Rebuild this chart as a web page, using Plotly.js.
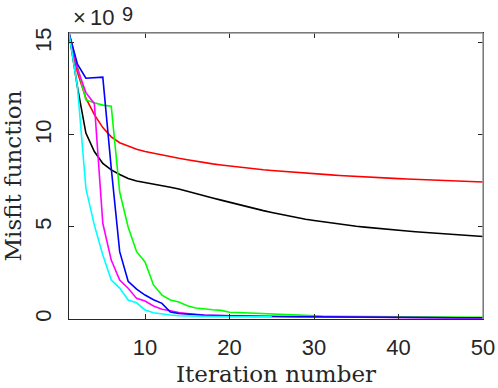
<!DOCTYPE html>
<html>
<head>
<meta charset="utf-8">
<script src="https://cdn.plot.ly/plotly-3.0.1.min.js"></script>
<style>
  html, body { margin: 0; padding: 0; background: #fff; }
  #misfitPlot { width: 498px; height: 388px; }
</style>
</head>
<body>
<div id="misfitPlot"></div>
<script>
// Misfit values, in units of 1e9, one entry per iteration
const misfitRed = [
    15.54, 13.4, 12.0, 11.1, 10.4, 9.9, 9.58, 9.38, 9.22, 9.1,
    9.0, 8.9, 8.81, 8.73, 8.65, 8.57, 8.5, 8.43, 8.37, 8.31,
    8.26, 8.21, 8.16, 8.11, 8.07, 8.03, 7.99, 7.95, 7.92, 7.89,
    7.86, 7.83, 7.8, 7.77, 7.74, 7.72, 7.69, 7.67, 7.65, 7.63,
    7.61, 7.59, 7.57, 7.55, 7.53, 7.51, 7.49, 7.47, 7.46, 7.44
];
const misfitBlack = [
    15.54, 12.6, 10.1, 9.1, 8.45, 8.1, 7.85, 7.63, 7.5, 7.42,
    7.35, 7.26, 7.16, 7.06, 6.95, 6.83, 6.71, 6.58, 6.46, 6.34,
    6.22, 6.11, 6.0, 5.89, 5.79, 5.69, 5.59, 5.5, 5.42, 5.35,
    5.28, 5.21, 5.15, 5.09, 5.04, 4.99, 4.94, 4.9, 4.86, 4.82,
    4.78, 4.74, 4.71, 4.68, 4.65, 4.62, 4.59, 4.56, 4.52, 4.48
];
const misfitGreen = [
    15.54, 13.7, 11.9, 11.75, 11.62, 11.56, 6.9, 5.0, 3.66, 3.1,
    1.85, 1.3, 1.03, 0.92, 0.72, 0.6, 0.53, 0.5, 0.47, 0.37,
    0.35, 0.33, 0.31, 0.26, 0.24, 0.22, 0.2, 0.18, 0.17, 0.16,
    0.155, 0.15, 0.145, 0.14, 0.135, 0.13, 0.125, 0.12, 0.118, 0.115,
    0.112, 0.11, 0.108, 0.105, 0.103, 0.1, 0.098, 0.096, 0.094, 0.092
];
const misfitMagenta = [
    15.54, 13.6, 12.3, 11.7, 5.2, 3.2, 2.12, 1.67, 1.12, 0.98,
    0.71, 0.53, 0.45, 0.35, 0.3, 0.25, 0.22, 0.2, 0.18, 0.17,
    0.16, 0.15, 0.14, 0.135, 0.13, 0.125, 0.12, 0.115, 0.11, 0.105,
    0.1, 0.097, 0.094, 0.091, 0.088, 0.085, 0.082, 0.08, 0.078, 0.076,
    0.074, 0.072, 0.07, 0.068, 0.066, 0.064, 0.062, 0.06, 0.058, 0.056
];
const misfitBlue = [
    15.54, 13.85, 13.08, 13.1, 13.14, 8.2, 3.66, 2.05, 1.62, 1.3,
    1.05, 0.85, 0.38, 0.3, 0.26, 0.22, 0.2, 0.19, 0.18, 0.17,
    0.16, 0.155, 0.15, 0.145, 0.14, 0.135, 0.13, 0.125, 0.12, 0.115,
    0.11, 0.105, 0.1, 0.098, 0.095, 0.092, 0.09, 0.088, 0.086, 0.084,
    0.082, 0.08, 0.078, 0.076, 0.074, 0.072, 0.07, 0.068, 0.066, 0.065
];
const misfitCyan = [
    15.54, 12.6, 7.1, 5.1, 3.48, 2.12, 1.68, 1.03, 0.88, 0.49,
    0.34, 0.27, 0.22, 0.18, 0.16, 0.15, 0.14, 0.135, 0.13, 0.128,
    0.126, 0.124, 0.122, 0.12, 0.118
];

const xTicks = [10, 20, 30, 40, 50];
const yTicks = [0, 5, 10, 15];

// draw order matters: later ones sit on top
const series = [
    {values: misfitRed, color: '#ff0000'},
    {values: misfitBlack, color: '#000000'},
    {values: misfitGreen, color: '#00ff00'},
    {values: misfitMagenta, color: '#ff00ff'},
    {values: misfitBlue, color: '#0000ff'},
    {values: misfitCyan, color: '#00ffff'}
];

const traces = series.map(s => ({
    type: 'scatter',
    mode: 'lines',
    x: s.values.map((_, i) => i + 1),
    y: s.values,
    line: {color: s.color, width: 1.6},
    hoverinfo: 'skip',
    showlegend: false
}));

const tickFont = {family: 'Liberation Sans, Arial, sans-serif', size: 22, color: '#262626'};
const titleFont = {family: 'DejaVu Serif, serif', size: 23, color: '#262626'};

// the "x10^9" exponent label, split so the spacing matches
function exponentPart(text, xshift, yshift, size, yanchor) {
    return {
        xref: 'paper', yref: 'paper',
        x: 0, y: 1,
        xanchor: 'left', yanchor: yanchor,
        xshift: xshift, yshift: yshift,
        showarrow: false,
        text: text,
        font: {family: 'Liberation Sans, Arial, sans-serif', size: size, color: '#262626'}
    };
}

const layout = {
    width: 498,
    height: 388,
    margin: {l: 69, r: 15, t: 33, b: 69},
    paper_bgcolor: '#ffffff',
    plot_bgcolor: '#ffffff',
    showlegend: false,
    xaxis: {
        range: [1, 50],
        tickvals: xTicks,
        ticktext: xTicks.map(String),
        ticks: 'inside',
        ticklen: 5,
        tickcolor: '#262626',
        showline: true,
        linecolor: '#262626',
        linewidth: 1,
        mirror: 'ticks',
        showgrid: false,
        zeroline: false,
        tickfont: tickFont,
        ticklabelstandoff: 9,
        title: {text: 'Iteration number', font: titleFont, standoff: 6}
    },
    yaxis: {
        range: [0, 15.54],
        tickvals: yTicks,
        ticktext: yTicks.map(String),
        tickangle: -90,
        ticks: 'inside',
        ticklen: 5,
        tickcolor: '#262626',
        showline: true,
        linecolor: '#262626',
        linewidth: 1,
        mirror: 'ticks',
        showgrid: false,
        zeroline: false,
        tickfont: tickFont,
        ticklabelstandoff: 8,
        title: {text: 'Misfit function', font: titleFont, standoff: 6}
    },
    shapes: [
        // lighter top and right box edges
        {type: 'line', xref: 'paper', yref: 'paper', x0: 0, x1: 1, y0: 1, y1: 1,
         line: {color: '#999999', width: 1.5}, layer: 'above'},
        {type: 'line', xref: 'paper', yref: 'paper', x0: 1, x1: 1, y0: 0, y1: 1,
         line: {color: '#999999', width: 1.5}, layer: 'above'}
    ],
    annotations: [
        exponentPart('×', 2, 1, 22, 'bottom'),
        exponentPart('10', 19, 1, 22, 'bottom'),
        exponentPart('9', 51, 32, 20, 'top')
    ]
};

Plotly.newPlot('misfitPlot', traces, layout, {staticPlot: true, displayModeBar: false});
</script>
</body>
</html>
